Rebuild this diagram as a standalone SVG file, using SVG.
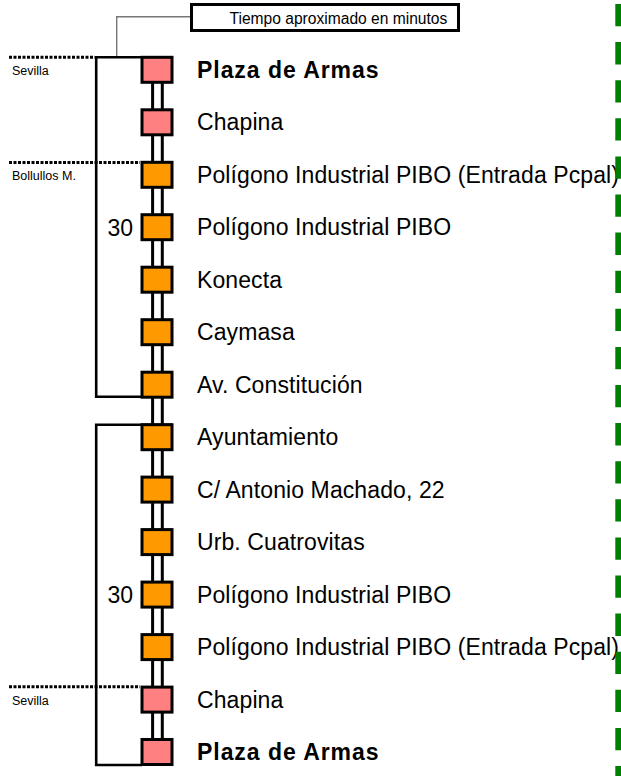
<svg xmlns="http://www.w3.org/2000/svg" width="621" height="776" viewBox="0 0 621 776">
<style>
text{font-family:"Liberation Sans",Arial,sans-serif;fill:#000}
.lbl{font-size:23px;letter-spacing:0.1px}
.b{font-weight:bold;letter-spacing:0.95px}
.zone{font-size:12.5px}
.num{font-size:23px;text-anchor:end}
.pink{fill:#FF8080;stroke:#000;stroke-width:3}
.orange{fill:#FF9900;stroke:#000;stroke-width:3}
.track{stroke:#000;stroke-width:3;fill:none}
.bracket{stroke:#000;stroke-width:2.6;fill:none}
.dots{stroke:#000;stroke-width:3;stroke-dasharray:3 1.5;fill:none}
</style>
<rect width="621" height="776" fill="#fff"/>
<g id="zones">
<path class="dots" d="M9 57.2H95"/>
<path class="dots" d="M9 162.5H140"/>
<path class="dots" d="M9 686.7H140"/>
<text class="zone" x="12" y="75">Sevilla</text>
<text class="zone" x="12" y="180">Bollullos M.</text>
<text class="zone" x="12" y="704.5">Sevilla</text>
</g>
<g id="connectors">
<path class="track" d="M152.6 70V752M162.3 70V752"/>
<path class="bracket" d="M172 57.2H96.2V396.7H142"/>
<path class="bracket" d="M172 424.7H96.2V765H142"/>
<path d="M190.5 16.7H116.7V56" stroke="#777" stroke-width="1.4" fill="none"/>
</g>
<g id="legend">
<rect x="191.5" y="4.5" width="267" height="26" fill="#fff" stroke="#000" stroke-width="3"/>
<text x="229.5" y="24" font-size="15.6">Tiempo aproximado en minutos</text>
</g>
<g id="n0"><rect class="pink" x="142" y="57.3" width="30" height="25"/><text class="lbl b" x="197" y="77.8">Plaza de Armas</text></g>
<g id="n1"><rect class="pink" x="142" y="109.8" width="30" height="25"/><text class="lbl" x="197" y="130.3">Chapina</text></g>
<g id="n2"><rect class="orange" x="142" y="162.3" width="30" height="25"/><text class="lbl" x="197" y="182.8">Polígono Industrial PIBO (Entrada Pcpal)</text></g>
<g id="n3"><rect class="orange" x="142" y="214.7" width="30" height="25"/><text class="num" x="133" y="236">30</text><text class="lbl" x="197" y="235.2">Polígono Industrial PIBO</text></g>
<g id="n4"><rect class="orange" x="142" y="267.2" width="30" height="25"/><text class="lbl" x="197" y="287.7">Konecta</text></g>
<g id="n5"><rect class="orange" x="142" y="319.7" width="30" height="25"/><text class="lbl" x="197" y="340.2">Caymasa</text></g>
<g id="n6"><rect class="orange" x="142" y="372.2" width="30" height="25"/><text class="lbl" x="197" y="392.7">Av. Constitución</text></g>
<g id="n7"><rect class="orange" x="142" y="424.7" width="30" height="25"/><text class="lbl" x="197" y="445.2">Ayuntamiento</text></g>
<g id="n8"><rect class="orange" x="142" y="477.1" width="30" height="25"/><text class="lbl" x="197" y="497.6">C/ Antonio Machado, 22</text></g>
<g id="n9"><rect class="orange" x="142" y="529.6" width="30" height="25"/><text class="lbl" x="197" y="550.1">Urb. Cuatrovitas</text></g>
<g id="n10"><rect class="orange" x="142" y="582.1" width="30" height="25"/><text class="num" x="133" y="603.4">30</text><text class="lbl" x="197" y="602.6">Polígono Industrial PIBO</text></g>
<g id="n11"><rect class="orange" x="142" y="634.6" width="30" height="25"/><text class="lbl" x="197" y="655.1">Polígono Industrial PIBO (Entrada Pcpal)</text></g>
<g id="n12"><rect class="pink" x="142" y="687.1" width="30" height="25"/><text class="lbl" x="197" y="707.6">Chapina</text></g>
<g id="n13"><rect class="pink" x="142" y="739.5" width="30" height="25"/><text class="lbl b" x="197" y="760">Plaza de Armas</text></g>
<g id="margin">
<path d="M618.3 4V776" stroke="#008000" stroke-width="6" stroke-dasharray="22.3 15.8" fill="none"/>
</g>
</svg>
